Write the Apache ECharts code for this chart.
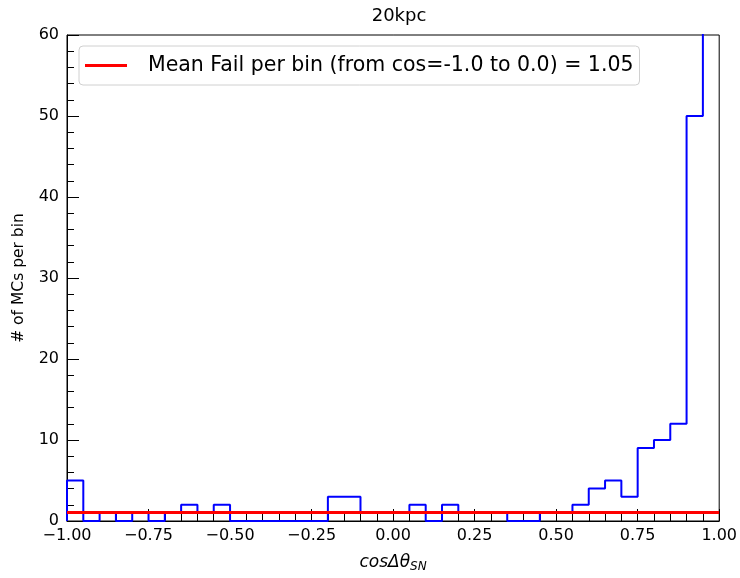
<!DOCTYPE html>
<html>
<head>
<meta charset="utf-8">
<script src="https://cdn.jsdelivr.net/npm/echarts@6/dist/echarts.min.js"></script>
<style>html,body{margin:0;padding:0;background:#fff}#c{width:740px;height:578px}</style>
</head>
<body>
<div id="c"></div>
<script>
// Histogram bin edges: -1.00 to 1.00 in 0.05 steps (40 bins)
var binLeftEdges = [-1.00,-0.95,-0.90,-0.85,-0.80,-0.75,-0.70,-0.65,-0.60,-0.55,
                    -0.50,-0.45,-0.40,-0.35,-0.30,-0.25,-0.20,-0.15,-0.10,-0.05,
                     0.00, 0.05, 0.10, 0.15, 0.20, 0.25, 0.30, 0.35, 0.40, 0.45,
                     0.50, 0.55, 0.60, 0.65, 0.70, 0.75, 0.80, 0.85, 0.90, 0.95];
var binWidth = 0.05;
var counts = [5,0,1,0,1,0,1,2,1,2,
              0,0,0,0,0,0,3,3,1,1,
              1,2,0,2,1,1,1,0,0,1,
              1,2,4,5,3,9,10,12,50,75];
var meanFail = 1.05;
var meanRange = [-1.0, 1.0];
var meanLabel = 'Mean Fail per bin (from cos=-1.0 to 0.0) = 1.05';
var titleText = '20kpc';
var xTicks = [-1.00,-0.75,-0.50,-0.25,0.00,0.25,0.50,0.75,1.00];
var yTicks = [0,10,20,30,40,50,60];

// build step outline from bins (the closing drop at x=1 lies under the frame)
var stepPts = [[binLeftEdges[0], 0]];
for (var i = 0; i < counts.length; i++) {
  var l = binLeftEdges[i], r = +(binLeftEdges[i] + binWidth).toFixed(2);
  stepPts.push([l, counts[i]]);
  stepPts.push([r, counts[i]]);
}

var FONT = 'DejaVu Sans';
var chart = echarts.init(document.getElementById('c'), null, {renderer: 'canvas'});
chart.setOption({
  animation: false,
  backgroundColor: '#fff',
  title: {
    text: titleText, left: 394, textAlign: 'center', top: 2,
    textStyle: {fontFamily: FONT, fontSize: 18, fontWeight: 'normal', color: '#000'}
  },
  legend: {
    left: 79, top: 46,
    data: [{name: meanLabel, icon: 'rect'}],
    itemWidth: 42, itemHeight: 3,
    padding: [9, 6, 9, 6],
    backgroundColor: '#fff',
    borderColor: '#d0d0d0', borderWidth: 1, borderRadius: 4,
    textStyle: {fontFamily: FONT, fontSize: 20.5, color: '#000', padding: [0, 0, 0, 16]}
  },
  grid: {left: 67, right: 17, top: 35, bottom: 50, show: true, borderColor: '#000', borderWidth: 1, backgroundColor: 'transparent'},
  xAxis: {
    type: 'value', min: -1, max: 1, interval: 0.25,
    name: '{a|cosΔθ}{b|SN}', nameLocation: 'middle', nameGap: 31,
    nameTextStyle: {
      rich: {
        a: {fontFamily: FONT, fontSize: 17, fontStyle: 'italic', color: '#000'},
        b: {fontFamily: FONT, fontSize: 12, fontStyle: 'italic', color: '#000', padding: [9, 0, 0, 0]}
      }
    },
    axisLine: {show: true, onZero: false, lineStyle: {color: '#000', width: 1}},
    axisTick: {show: true, inside: true, length: 12, lineStyle: {color: '#000'}},
    minorTick: {show: true, splitNumber: 5, length: 7, lineStyle: {color: '#000'}},
    splitLine: {show: false},
    axisLabel: {
      margin: 7, fontFamily: FONT, fontSize: 16, color: '#000',
      formatter: function (v) { return v.toFixed(2).replace('-', '\u2212'); }
    }
  },
  yAxis: {
    type: 'value', min: 0, max: 60, interval: 10,
    name: '# of MCs per bin', nameLocation: 'middle', nameGap: 40, nameRotate: 90,
    nameTextStyle: {fontFamily: FONT, fontSize: 15.5, color: '#000'},
    axisLine: {show: true, onZero: false, lineStyle: {color: '#000', width: 1}},
    axisTick: {show: true, inside: true, length: 12, lineStyle: {color: '#000'}},
    minorTick: {show: true, splitNumber: 5, length: 7, lineStyle: {color: '#000'}},
    splitLine: {show: false},
    axisLabel: {margin: 8, fontFamily: FONT, fontSize: 16, color: '#000'}
  },
  series: [
    {
      name: 'hist', type: 'line', data: stepPts, showSymbol: false, symbol: 'none',
      clip: true, z: 2,
      lineStyle: {color: '#0000ff', width: 2}, itemStyle: {color: '#0000ff'}
    },
    {
      name: meanLabel, type: 'line', z: 3,
      data: [[meanRange[0], meanFail], [meanRange[1], meanFail]],
      showSymbol: false, symbol: 'none',
      lineStyle: {color: '#ff0000', width: 3}, itemStyle: {color: '#ff0000'}
    }
  ]
});
</script>
</body>
</html>
